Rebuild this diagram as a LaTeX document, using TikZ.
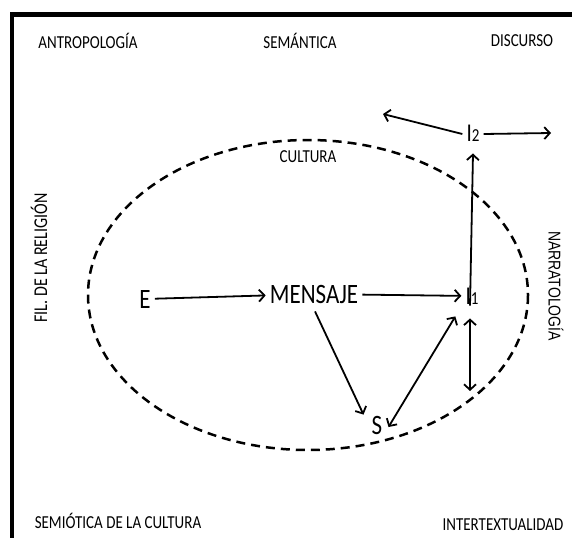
\documentclass[tikz,border=0pt]{standalone}
\usepackage{graphicx}
\usepackage{fontspec}
\setmainfont{Carlito}
\newfontfamily\arialf{Liberation Sans}
\newcommand{\vst}[1]{\scalebox{1}[1.22]{#1}}
\usetikzlibrary{arrows.meta}
\begin{document}
\begin{tikzpicture}[x=1pt,y=-1pt,
  lbl/.style={font=\fontsize{15}{18}\selectfont, inner sep=0pt},
  big/.style={font=\fontsize{23}{26}\selectfont, inner sep=4pt},
  mid/.style={font=\fontsize{21}{24}\selectfont, inner sep=4pt},
  tip/.tip={Straight Barb[length=5.5pt,width=12pt,line width=1.8pt]},
  arr/.style={line width=1.8pt, -tip},
  darr/.style={line width=1.8pt, tip-tip},
]
\useasboundingbox (0,0) rectangle (572,538);
\fill[white] (0,0) rectangle (572,538);
\draw[line width=4.5pt] (572,14.5) -- (12,14.5) -- (12,538);

% corner labels
\node[lbl] (antro) at (88,41) {\vst{ANTROPOLOGÍA}};
\node[lbl] (sem) at (300,41) {\vst{SEMÁNTICA}};
\node[lbl] (disc) at (522,41) {\vst{DISCURSO}};
\node[lbl] (semio) at (118,521) {\vst{SEMIÓTICA DE LA CULTURA}};
\node[lbl] (inter) at (503,525) {\vst{INTERTEXTUALIDAD}};
\node[lbl, font=\fontsize{16}{18}\selectfont, rotate=90] (fil) at (39,258) {\vst{FIL. DE LA RELIGIÓN}};
\node[lbl, font=\arialf\fontsize{14}{16}\selectfont, rotate=-90] (narr) at (556,286) {\vst{NARRATOLOGÍA}};

% culture ellipse
\draw[line width=2.5pt, dash pattern=on 9pt off 6pt] (308,295) ellipse [x radius=220, y radius=155];
\node[lbl] (cult) at (308,157) {\vst{CULTURA}};

% main nodes
\node[big] (E) at (145,299) {\vst{E}};
\node[big] (M) at (314,294) {\vst{MENSAJE}};
\node[mid] (I1) at (472,296) {\vst{I{\fontsize{15}{18}\selectfont 1}}};
\node[mid] (I2) at (473,133) {\vst{I{\fontsize{15}{18}\selectfont 2}}};
\node[big] (S) at (377,425) {\vst{S}};
\coordinate (down) at (470,391);
\coordinate (left) at (383,114);
\coordinate (right) at (551,133);

% connectors
\draw[arr] (E) -- (M);
\draw[arr] (M) -- (I1);
\draw[arr] ([xshift=1pt,yshift=-4pt]M.south) -- ([xshift=-4pt,yshift=-3pt]S.north west);
\draw[darr] ([xshift=2pt,yshift=-2pt]S.east) -- ([xshift=-6pt,yshift=-8pt]I1.south west);
\draw[darr] ([xshift=-2pt,yshift=-10pt]I1.south) -- (down);
\draw[arr] ([xshift=-2pt,yshift=-22pt]I1.north) -- ([yshift=-8pt]I2.south);
\draw[arr] ([yshift=-1pt]I2.west) -- (left);
\draw[arr] ([yshift=-1pt]I2.east) -- (right);
\end{tikzpicture}
\end{document}
